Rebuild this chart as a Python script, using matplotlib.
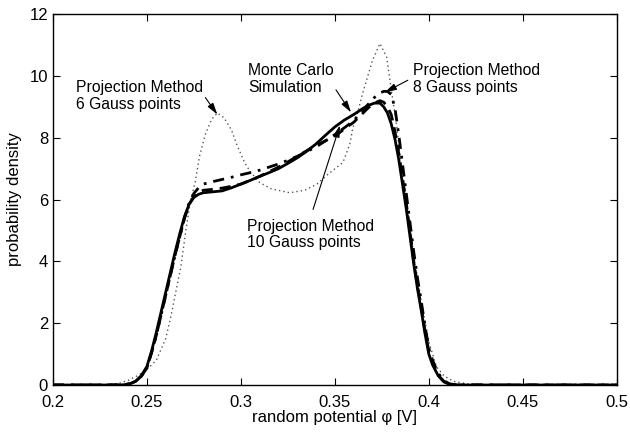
import matplotlib
matplotlib.use("Agg")
import matplotlib.pyplot as plt

plt.rcParams['font.family'] = ['Liberation Sans', 'DejaVu Sans']

# Monte Carlo simulation (solid)
mc_x = [0.20, 0.235, 0.238, 0.241, 0.244, 0.247, 0.25, 0.2525, 0.255, 0.2575, 0.26, 0.2625,
        0.265, 0.2675, 0.27, 0.2725, 0.275, 0.2775, 0.28, 0.285, 0.29, 0.295, 0.30, 0.305,
        0.31, 0.315, 0.32, 0.325, 0.33, 0.335, 0.34, 0.345, 0.35, 0.355, 0.36, 0.365, 0.368,
        0.371, 0.374, 0.376, 0.378, 0.380, 0.382, 0.384, 0.386, 0.388, 0.390, 0.392, 0.394,
        0.396, 0.398, 0.400, 0.402, 0.405, 0.408, 0.411, 0.415, 0.50]
mc_y = [0.0, 0.0, 0.01, 0.04, 0.12, 0.3, 0.6, 1.1, 1.7, 2.35, 3.0, 3.65,
        4.3, 4.9, 5.45, 5.85, 6.07, 6.17, 6.22, 6.25, 6.28, 6.38, 6.5, 6.62,
        6.75, 6.87, 7.0, 7.17, 7.35, 7.56, 7.8, 8.08, 8.35, 8.57, 8.75, 8.95, 9.05,
        9.12, 9.12, 9.0, 8.8, 8.45, 7.95, 7.3, 6.5, 5.7, 4.8, 3.9, 3.1,
        2.4, 1.65, 1.0, 0.65, 0.3, 0.1, 0.02, 0.0, 0.0]

# projection method, 10 Gauss points (dashed)
g10_x = [0.20, 0.235, 0.238, 0.241, 0.244, 0.247, 0.25, 0.2525, 0.255, 0.2575, 0.26, 0.2625,
         0.265, 0.2675, 0.27, 0.2725, 0.275, 0.2775, 0.28, 0.285, 0.29, 0.295, 0.30, 0.305,
         0.31, 0.315, 0.32, 0.325, 0.33, 0.335, 0.34, 0.345, 0.35, 0.355, 0.36, 0.365, 0.368,
         0.371, 0.374, 0.376, 0.378, 0.380, 0.382, 0.384, 0.386, 0.388, 0.390, 0.392, 0.394,
         0.396, 0.398, 0.400, 0.402, 0.405, 0.408, 0.411, 0.415, 0.50]
g10_y = [0.0, 0.0, 0.01, 0.04, 0.12, 0.28, 0.55, 1.05, 1.6, 2.25, 2.9, 3.55,
         4.2, 4.8, 5.4, 5.85, 6.1, 6.22, 6.3, 6.33, 6.37, 6.43, 6.5, 6.62,
         6.75, 6.9, 7.05, 7.22, 7.4, 7.58, 7.75, 7.9, 8.05, 8.28, 8.5, 8.8, 8.98,
         9.12, 9.2, 9.15, 9.0, 8.75, 8.2, 7.5, 6.7, 5.9, 4.95, 4.0, 3.2,
         2.5, 1.75, 1.1, 0.7, 0.32, 0.12, 0.03, 0.0, 0.0]

# projection method, 8 Gauss points (dash-dot)
g8_x = [0.20, 0.235, 0.238, 0.241, 0.244, 0.247, 0.25, 0.2525, 0.255, 0.2575, 0.26, 0.2625,
        0.265, 0.2675, 0.27, 0.2725, 0.275, 0.2775, 0.28, 0.285, 0.29, 0.295, 0.30, 0.305,
        0.31, 0.315, 0.32, 0.325, 0.33, 0.335, 0.34, 0.345, 0.35, 0.355, 0.36, 0.365, 0.368,
        0.371, 0.374, 0.376, 0.378, 0.380, 0.382, 0.384, 0.386, 0.388, 0.390, 0.392, 0.394,
        0.396, 0.398, 0.400, 0.402, 0.405, 0.408, 0.411, 0.415, 0.50]
g8_y = [0.0, 0.0, 0.01, 0.04, 0.12, 0.28, 0.55, 1.05, 1.6, 2.25, 2.9, 3.55,
        4.2, 4.8, 5.4, 5.9, 6.2, 6.38, 6.5, 6.58, 6.65, 6.72, 6.8, 6.87,
        6.95, 7.05, 7.15, 7.27, 7.4, 7.55, 7.7, 7.9, 8.1, 8.32, 8.55, 8.9, 9.1,
        9.3, 9.45, 9.5, 9.5, 9.4, 8.95, 8.1, 7.15, 6.2, 5.25, 4.3, 3.45,
        2.7, 1.9, 1.2, 0.8, 0.38, 0.14, 0.04, 0.0, 0.0]

# projection method, 6 Gauss points (dotted)
g6_x = [0.20, 0.22, 0.23, 0.235, 0.24, 0.245, 0.25, 0.255, 0.26, 0.2626, 0.265, 0.268,
        0.2705, 0.273, 0.2758, 0.278, 0.281, 0.2845, 0.2875, 0.291, 0.295, 0.298, 0.302,
        0.305, 0.31, 0.316, 0.326, 0.334, 0.3405, 0.346, 0.3543, 0.358, 0.3595, 0.3625,
        0.3648, 0.37, 0.374, 0.3776, 0.3803, 0.383, 0.3845, 0.388, 0.392, 0.396, 0.40,
        0.404, 0.408, 0.413, 0.42, 0.43, 0.44, 0.50]
g6_y = [0.0, 0.0, 0.02, 0.05, 0.15, 0.3, 0.5, 0.8, 1.5, 2.17, 2.9, 3.8,
        4.9, 5.9, 6.6, 7.4, 8.1, 8.6, 8.8, 8.65, 8.25, 7.75, 7.2,
        6.9, 6.55, 6.35, 6.22, 6.3, 6.5, 6.8, 7.2, 7.8, 8.3, 8.9,
        9.44, 10.5, 11.05, 10.6, 9.44, 8.34, 7.5, 6.0, 4.2, 2.7, 1.4,
        0.6, 0.3, 0.12, 0.04, 0.01, 0.0, 0.0]

xticks = [0.2, 0.25, 0.3, 0.35, 0.4, 0.45, 0.5]
xticklabels = ['0.2', '0.25', '0.3', '0.35', '0.4', '0.45', '0.5']
yticks = [0, 2, 4, 6, 8, 10, 12]

fig = plt.figure(figsize=(6.3, 4.41), dpi=100)
ax = fig.add_axes([0.084, 0.127, 0.895, 0.841])

ax.plot(g6_x, g6_y, color='#555555', lw=1.0, linestyle=(0, (1, 2.2)))
ax.plot(g8_x, g8_y, color='black', lw=2.0, linestyle=(0, (4, 2.5, 1, 2.5)))
ax.plot(g10_x, g10_y, color='black', lw=2.0, linestyle=(0, (4, 2.5)))
ax.plot(mc_x, mc_y, color='black', lw=2.0)

ax.set_xlim(0.2, 0.5)
ax.set_ylim(0, 12)
ax.set_xticks(xticks)
ax.set_xticklabels(xticklabels)
ax.set_yticks(yticks)
ax.tick_params(direction='in', top=True, right=True, labelsize=12, length=5, width=0.8)
ax.tick_params(axis='x', pad=7)
for s in ax.spines.values():
    s.set_linewidth(1.0)

ax.set_xlabel('random potential φ [V]', fontsize=12, labelpad=0)
ax.set_ylabel('probability density', fontsize=12, labelpad=5)

arrow = dict(arrowstyle='-|>,head_length=0.7,head_width=0.2', color='black', lw=0.8,
             shrinkA=0, shrinkB=0)
ax.annotate('Projection Method\n6 Gauss points', xy=(0.2875, 8.75), xytext=(0.2122, 9.35),
            fontsize=11.3, ha='left', va='center', linespacing=1.1)
ax.annotate('', xy=(0.2875, 8.75), xytext=(0.2811, 9.3), arrowprops=arrow)
ax.annotate('Monte Carlo\nSimulation', xy=(0.3586, 8.82), xytext=(0.304, 9.9),
            fontsize=11.3, ha='left', va='center', linespacing=1.1)
ax.annotate('', xy=(0.3586, 8.82), xytext=(0.3506, 9.55), arrowprops=arrow)
ax.annotate('Projection Method\n8 Gauss points', xy=(0.3766, 9.47), xytext=(0.3914, 9.9),
            fontsize=11.3, ha='left', va='center', linespacing=1.1)
ax.annotate('', xy=(0.3766, 9.47), xytext=(0.3888, 9.86), arrowprops=arrow)
ax.annotate('Projection Method\n10 Gauss points', xy=(0.3527, 8.4), xytext=(0.3034, 4.87),
            fontsize=11.3, ha='left', va='center', linespacing=1.1)
ax.annotate('', xy=(0.3527, 8.4), xytext=(0.3384, 5.68), arrowprops=arrow)

fig.savefig('out.png', dpi=100)
